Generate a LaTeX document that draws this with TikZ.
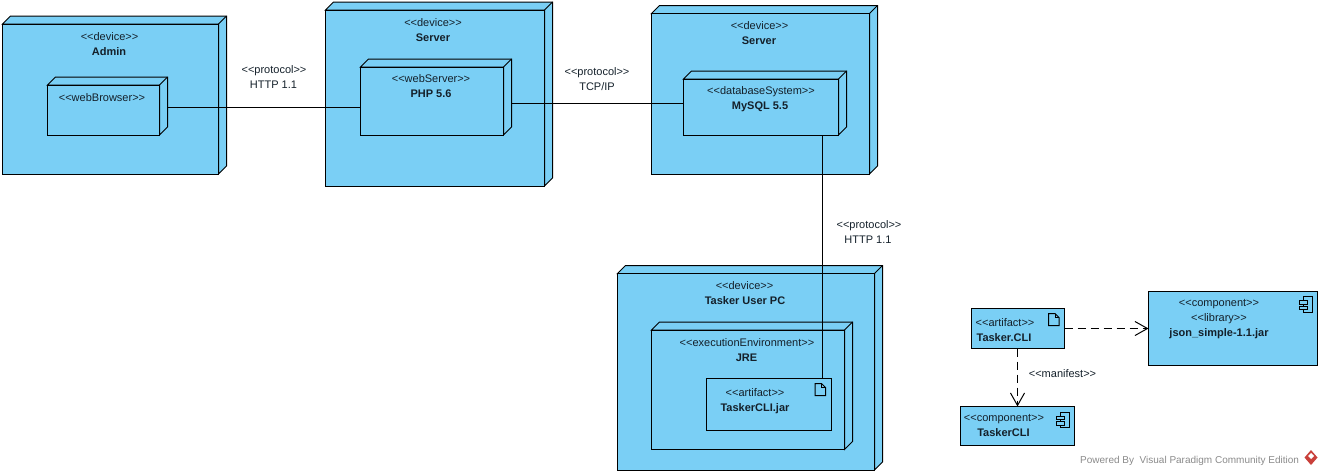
\documentclass[tikz,border=0pt]{standalone}
\usepackage{fontspec}
\setmainfont{Liberation Sans}
\usetikzlibrary{arrows.meta,calc}
\definecolor{vpblue}{HTML}{7ACFF5}
\definecolor{vptext}{HTML}{14202A}
\definecolor{vpgray}{HTML}{8A8A8A}
\definecolor{vpred}{HTML}{C9403A}
\tikzset{
  boxface/.style={draw=black,fill=vpblue,line width=1pt,inner sep=0pt,outer sep=0pt},
  lbltext/.style={anchor=base,inner sep=0pt,outer sep=0pt,text=vptext,font=\fontsize{11}{13}\selectfont},
  lblbold/.style={lbltext,font=\fontsize{11}{13}\selectfont\bfseries},
  link/.style={draw=black,line width=1pt},
  deplink/.style={draw=black,line width=1pt,dash pattern=on 8pt off 5pt,-{Straight Barb[length=12.5pt,width=14pt,line width=1pt]}},
  icon/.style={draw=black,fill=vpblue,line width=1pt,line join=miter}
}
% \cube{name}{x0}{y0}{x1}{y1}
\newcommand{\cube}[5]{%
  \draw[boxface] (#2,#3) -- ++(8,-8) -- (#4+8,#3-8) -- (#4+8,#5-8) -- (#4,#5) -- (#4,#3) -- cycle;
  \draw[line width=1pt] (#4,#3) -- (#4+8,#3-8);
  \node[boxface,rectangle,minimum width={(#4-#2)*1pt},minimum height={(#5-#3)*1pt}] (#1) at ({(#2+#4)/2},{(#3+#5)/2}) {};
}
% \flatbox{name}{x0}{y0}{x1}{y1}
\newcommand{\flatbox}[5]{%
  \node[boxface,rectangle,minimum width={(#4-#2)*1pt},minimum height={(#5-#3)*1pt}] (#1) at ({(#2+#4)/2},{(#3+#5)/2}) {};
}
\newcommand{\lbl}[5][lbltext]{\node[#1] (#2) at (#3,#4+4) {#5};}
\newcommand{\docicon}[2]{%
  \draw[icon] (#1,#2) -- (#1+6.5,#2) -- (#1+10.5,#2+4) -- (#1+10.5,#2+12) -- (#1,#2+12) -- cycle;
  \draw[line width=1pt] (#1+6.5,#2) -- (#1+6.5,#2+4) -- (#1+10.5,#2+4);
}
\newcommand{\compicon}[2]{%
  \draw[icon] (#1+4,#2) rectangle (#1+13,#2+15.5);
  \draw[icon] (#1,#2+4) rectangle (#1+8,#2+7.5);
  \draw[icon] (#1,#2+9.5) rectangle (#1+8,#2+13);
}
\begin{document}
\begin{tikzpicture}[x=1pt,y=-1pt]
\useasboundingbox (0,0) rectangle (1322,475);
% outer boxes
\cube{admin}{2.5}{24}{218.5}{174}
\cube{webbrowser}{47.5}{85}{159.5}{135}
\cube{serverone}{325.5}{10}{544.5}{186}
\cube{php}{360.5}{67}{503.5}{135}
\cube{servertwo}{651.5}{13.5}{869.5}{174}
\cube{mysql}{683.5}{79}{838.5}{135}
\cube{userpc}{617.5}{273.5}{874.5}{470}
\cube{jre}{651.5}{330}{844.5}{449.5}
\flatbox{jar}{706.5}{378}{831.5}{430.5}
\flatbox{taskercli}{971.5}{308.5}{1064.5}{348.5}
\flatbox{json}{1148.5}{291.5}{1317.5}{365}
\flatbox{compcli}{960.5}{406.5}{1074.5}{445.5}
\docicon{815}{383.5}
\docicon{1048.5}{313.5}
\compicon{1299.5}{296.5}
\compicon{1056.5}{412}
% connectors
\coordinate (wbport) at ([xshift=8pt,yshift=2.5pt]webbrowser.east);
\draw[link] (wbport) -- (wbport -| php.west);
\coordinate (phpport) at ([xshift=8pt,yshift=-2pt]php.east);
\draw[link] (phpport) -- (phpport -| mysql.west);
\coordinate (myport) at ([xshift=61.5pt]mysql.south);
\draw[link] (myport) -- (myport |- jar.north);
\draw[deplink] (taskercli.east |- 0,328.5) -- (json.west |- 0,328.5);
\draw[deplink] (1017.5,0 |- taskercli.south) -- (1017.5,0 |- compcli.north);
% labels
\lbl{a1}{109.5}{36}{<{}<device>{}>}
\lbl[lblbold]{a2}{109}{51}{Admin}
\lbl{b1}{102}{97}{<{}<webBrowser>{}>}
\lbl{c1}{274}{69}{<{}<protocol>{}>}
\lbl{c2}{273.5}{84}{HTTP 1.1}
\lbl{d1}{433}{22}{<{}<device>{}>}
\lbl[lblbold]{d2}{433}{37}{Server}
\lbl{e1}{431}{78}{<{}<webServer>{}>}
\lbl[lblbold]{e2}{431}{93}{PHP 5.6}
\lbl{f1}{597}{71.5}{<{}<protocol>{}>}
\lbl{f2}{597}{86}{TCP/IP}
\lbl{g1}{759.5}{25.5}{<{}<device>{}>}
\lbl[lblbold]{g2}{759}{40.5}{Server}
\lbl{h1}{761}{90.5}{<{}<databaseSystem>{}>}
\lbl[lblbold]{h2}{760}{105}{MySQL 5.5}
\lbl{i1}{869}{224}{<{}<protocol>{}>}
\lbl{i2}{868}{239}{HTTP 1.1}
\lbl{j1}{744.5}{285}{<{}<device>{}>}
\lbl[lblbold]{j2}{745}{300}{Tasker User PC}
\lbl{k1}{747}{342}{<{}<executionEnvironment>{}>}
\lbl[lblbold]{k2}{746.5}{357}{JRE}
\lbl{l1}{755}{392}{<{}<artifact>{}>}
\lbl[lblbold]{l2}{755}{407}{TaskerCLI.jar}
\lbl{m1}{1005}{322}{<{}<artifact>{}>}
\lbl[lblbold]{m2}{1004}{337}{Tasker.CLI}
\lbl{n1}{1219}{302}{<{}<component>{}>}
\lbl{n2}{1219}{317.5}{<{}<library>{}>}
\lbl[lblbold]{n3}{1219}{332.5}{json\_simple-1.1.jar}
\lbl{o1}{1004}{417.5}{<{}<component>{}>}
\lbl[lblbold]{o2}{1003.5}{432}{TaskerCLI}
\lbl{p1}{1062.5}{373}{<{}<manifest>{}>}
\node[lbltext,text=vpgray,anchor=base east,font=\fontsize{10}{12}\selectfont] (powered) at (1299,463) {Powered By\ \ Visual Paradigm Community Edition};
% logo
\fill[vpred] (1311,450) -- (1317.5,457.5) -- (1311,465) -- (1304.5,457.5) -- cycle;
\fill[white] (1311,453) -- (1314,456) -- (1311,459) -- (1308,456) -- cycle;
\end{tikzpicture}
\end{document}
